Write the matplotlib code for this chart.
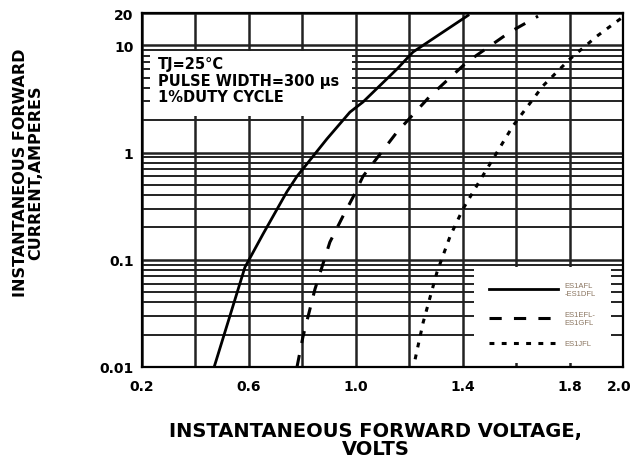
import matplotlib
matplotlib.use('Agg')
from matplotlib import pyplot as plt
from matplotlib.patches import Rectangle
from matplotlib.transforms import ScaledTranslation

plt.rcParams['font.family'] = ['DejaVu Sans']

# forward characteristics
v_ad = [0.47, 0.585, 0.653, 0.742, 0.78, 0.892, 0.978, 1.027, 1.154, 1.214, 1.304, 1.42]
i_ad = [0.01, 0.085, 0.174, 0.43, 0.60, 1.34, 2.38, 2.96, 6.0, 8.65, 12.2, 19.0]

v_eg = [0.78, 0.802, 0.847, 0.903, 0.952, 0.99, 1.027, 1.154, 1.278, 1.416, 1.502, 1.577, 1.682]
i_eg = [0.01, 0.019, 0.053, 0.146, 0.255, 0.385, 0.60, 1.55, 3.36, 6.98, 9.85, 13.3, 18.7]

v_j = [1.222, 1.252, 1.304, 1.353, 1.401, 1.439, 1.588, 1.70, 1.80, 1.903, 2.0]
i_j = [0.0118, 0.026, 0.077, 0.166, 0.297, 0.43, 1.77, 4.17, 7.4, 12.2, 18.4]

labels = ['ES1AFL\n-ES1DFL', 'ES1EFL-\nES1GFL', 'ES1JFL']
x_ticks = [0.2, 0.4, 0.6, 0.8, 1.0, 1.2, 1.4, 1.6, 1.8, 2.0]
x_ticklabels = ['0.2', '', '0.6', '', '1.0', '', '1.4', '', '1.8', '2.0']
y_ticks = [0.01, 0.1, 1, 10, 20]
y_ticklabels = ['0.01', '0.1', '1', '10', '20']

fig = plt.figure(figsize=(6.32, 4.64), dpi=100)
ax = fig.add_axes([0.2247, 0.2069, 0.7611, 0.7629])

ax.plot(v_ad, i_ad, color='black', lw=2.0, label=labels[0], zorder=5)
ax.plot(v_eg, i_eg, color='black', lw=2.2, dashes=(4, 4), label=labels[1], zorder=5)
ax.plot(v_j, i_j, color='black', lw=2.2, dashes=(1.6, 2.4), label=labels[2], zorder=5)

ax.set_yscale('log')
ax.set_xlim(0.2, 2.0)
ax.set_ylim(0.01, 20)

ax.set_xticks(x_ticks)
ax.set_xticklabels(x_ticklabels)
ax.set_yticks(y_ticks)
ax.set_yticklabels(y_ticklabels)
ax.yaxis.set_minor_formatter(matplotlib.ticker.NullFormatter())
ax.tick_params(which='both', length=0, labelsize=10)
ax.tick_params(axis='x', pad=9)
ax.tick_params(axis='y', pad=6)
for t in ax.get_xticklabels() + ax.get_yticklabels():
    t.set_fontweight('bold')
# last x label sits against the right edge
last = ax.get_xticklabels()[-1]
last.set_ha('right')
last.set_transform(last.get_transform() + ScaledTranslation(6 / 72, 0, fig.dpi_scale_trans))

ax.grid(True, which='major', color='#222222', lw=1.8)
ax.grid(True, which='minor', axis='y', color='#222222', lw=1.4)
ax.set_axisbelow(True)
for s in ax.spines.values():
    s.set_linewidth(1.6)
    s.set_zorder(6)

# white panel behind the test conditions
ax.add_patch(Rectangle((0.017, 0.709), 0.42, 0.184, transform=ax.transAxes,
                       facecolor='white', edgecolor='none', zorder=3))
ax.text(0.034, 0.878, 'TJ=25\u00b0C\nPULSE WIDTH=300 \u03bcs\n1%DUTY CYCLE',
        transform=ax.transAxes, fontsize=10.5, fontweight='bold', va='top', ha='left',
        linespacing=1.12, zorder=4)

leg = ax.legend(loc='lower right', bbox_to_anchor=(0.975, 0.012), borderaxespad=0,
                handlelength=9, labelspacing=1.85, frameon=True, fancybox=False,
                borderpad=2.0, handletextpad=0.9,
                prop={'family': 'Liberation Sans', 'size': 5.5})
leg.get_frame().set_facecolor('white')
leg.get_frame().set_edgecolor('none')
leg.get_frame().set_alpha(1)
leg.set_zorder(4)
for t in leg.get_texts():
    t.set_color('#8a7560')

fig.text(0.044, 0.627, 'INSTANTANEOUS FORWARD\nCURRENT,AMPERES', rotation=90,
         ha='center', va='center', fontsize=11.5, fontweight='bold', linespacing=1.05)
fig.text(0.594, 0.051, 'INSTANTANEOUS FORWARD VOLTAGE,\nVOLTS', ha='center', va='center',
         fontsize=14, fontweight='bold', linespacing=0.92)

fig.savefig('out.png', dpi=100)
